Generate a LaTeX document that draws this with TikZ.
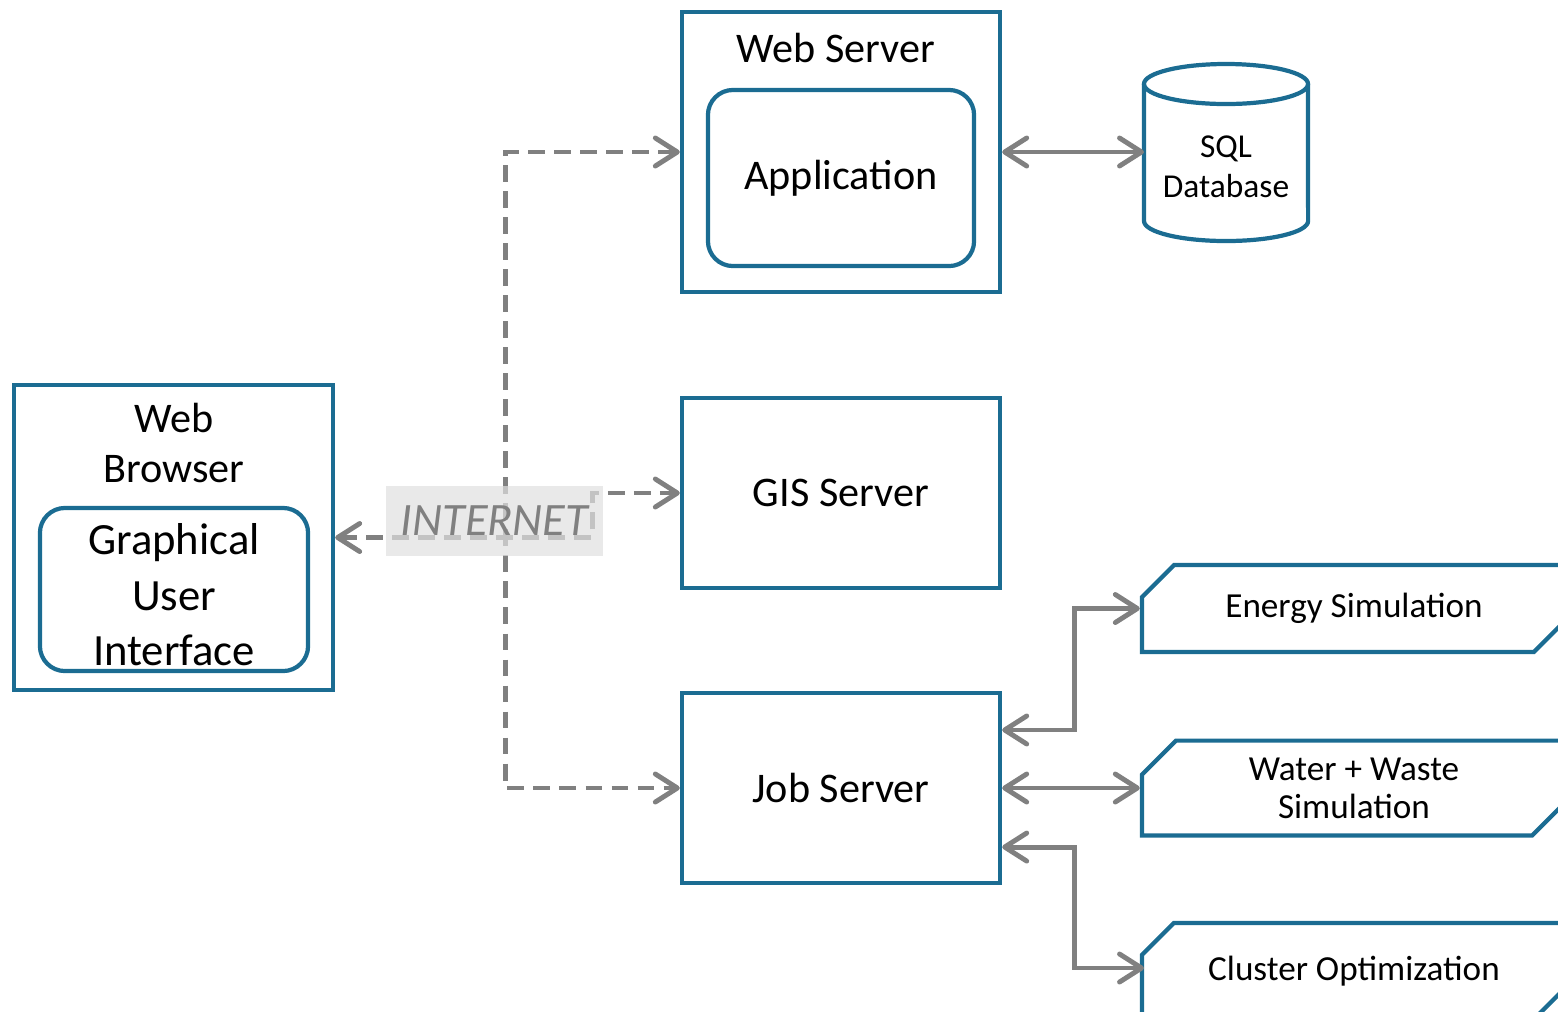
\documentclass[tikz,border=0pt]{standalone}
\usepackage{fontspec}
\setmainfont{Carlito}
\usepackage{tikz}
\usetikzlibrary{arrows.meta}
\usetikzlibrary{shapes.misc}

\definecolor{boxblue}{HTML}{1B6C92}
\definecolor{linkgray}{HTML}{808080}

\begin{document}
\begin{tikzpicture}[x=0.01cm, y=-0.01cm,
    server/.style = {draw=boxblue, line width=1.2pt, minimum width=3.18cm, inner sep=0pt, font=\fontsize{12}{14}\selectfont},
    inner/.style = {draw=boxblue, line width=1.2pt, rounded corners=0.25cm, inner sep=0pt, align=center},
    task/.style = {chamfered rectangle, chamfered rectangle corners={north west,south east},
                   chamfered rectangle xsep=0.17cm, chamfered rectangle ysep=0.17cm,
                   draw=boxblue, line width=1.2pt, minimum width=4.24cm, minimum height=0.87cm,
                   inner sep=0pt, align=center, font=\fontsize{10}{10.8}\selectfont},
    link/.style = {draw=linkgray, line width=1.4pt,
                   {Straight Barb[length=2.2mm,width=2.8mm,round]}-{Straight Barb[length=2.2mm,width=2.8mm,round]}},
    web/.style = {link, dash pattern=on 4.8pt off 2.6pt}]

    \useasboundingbox (0,0) rectangle (1558,1011);

    % browser side
    \node [server, minimum width=3.19cm, minimum height=3.05cm] (browser) at (173.5,537.5) {};
    \node [align=center, font=\fontsize{12}{14.2}\selectfont] (browsertitle) at (174,443) {Web\\Browser};
    \node [inner, minimum width=2.68cm, minimum height=1.63cm, font=\fontsize{12.7}{15.8}\selectfont] (gui) at (174,589.5) {};
    \node [align=center, font=\fontsize{12.7}{15.8}\selectfont] (guitext) at (174,595) {Graphical\\User\\Interface};

    % servers
    \node [server, minimum height=2.80cm] (websrv) at (841,152) {};
    \node [font=\fontsize{12}{14}\selectfont] (websrvtitle) at (836,48) {Web Server};
    \node [inner, minimum width=2.66cm, minimum height=1.76cm, font=\fontsize{12}{14}\selectfont] (app) at (841,178) {Application};
    \node [server, minimum height=1.90cm] (gis) at (841,493) {GIS Server};
    \node [server, minimum height=1.90cm] (job) at (841,788) {Job Server};

    % database
    \node [minimum width=1.64cm, minimum height=1.77cm, align=center, font=\fontsize{9.5}{11.4}\selectfont] (sql) at (1226,167) {SQL\\Database};
    \draw [draw=boxblue, line width=1.2pt] (1226,84) ellipse [x radius=0.82cm, y radius=0.2cm];
    \draw [draw=boxblue, line width=1.2pt] (1144,84) -- (1144,221) arc [start angle=180, end angle=360, x radius=0.82cm, y radius=0.2cm] -- (1308,84);

    % jobs
    \node [task] (energy) at (1354,608.5) {Energy Simulation};
    \node [task] (water) at (1354,788) {Water + Waste\\Simulation};
    \node [task, minimum height=0.96cm] (cluster) at (1354,971) {Cluster Optimization};

    \draw [link] (websrv.east) -- (1144,152);
    \draw [link] ([yshift=0.58cm]job.east) -- ++(72,0) |- (energy.west);
    \draw [link] (job.east) -- (water.west);
    \draw [link] ([yshift=-0.59cm]job.east) -- ++(72,0) |- (1144,968);

    % internet
    \draw [web] (browser.east) -- ++(257,0) |- (gis.west);
    \draw [web] (websrv.west) -- ++(-174,0) |- (job.west);
    \node [fill=black!12, fill opacity=0.7, text opacity=1, minimum width=2.17cm, minimum height=0.7cm,
           text=linkgray, font=\fontsize{13.2}{15}\selectfont\itshape] (internet) at (494.5,521) {INTERNET};

\end{tikzpicture}
\end{document}
